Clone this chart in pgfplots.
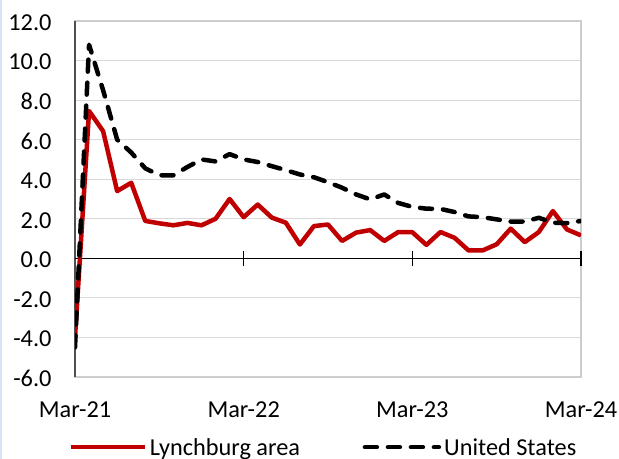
\documentclass[border=0pt]{standalone}
\usepackage{fontspec}
\setmainfont{Carlito}
\usepackage{pgfplots}
\pgfplotsset{compat=1.18}
\definecolor{lred}{RGB}{192,0,0}
\definecolor{gridg}{RGB}{217,217,217}
\definecolor{frameg}{RGB}{205,205,205}
\definecolor{axisg}{RGB}{80,80,80}
\definecolor{edgeblue}{RGB}{218,227,243}

\pgfplotstableread{
m  lyn    us
0  -4.0   -4.5
1  7.45   10.8
2  6.43   8.5
3  3.4    6.0
4  3.82   5.35
5  1.89   4.55
6  1.77   4.2
7  1.67   4.2
8  1.79   4.62
9  1.67   5.0
10 2.0    4.9
11 3.0    5.27
12 2.08   5.0
13 2.72   4.87
14 2.06   4.66
15 1.8    4.46
16 0.7    4.24
17 1.63   4.1
18 1.71   3.85
19 0.88   3.57
20 1.3    3.23
21 1.43   2.98
22 0.88   3.23
23 1.33   2.8
24 1.32   2.6
25 0.68   2.51
26 1.33   2.5
27 1.04   2.34
28 0.4    2.12
29 0.4    2.08
30 0.71   1.97
31 1.5    1.86
32 0.82   1.86
33 1.33   2.05
34 2.39   1.8
35 1.46   1.78
36 1.16   1.89
}\datatab

\begin{document}
\begin{tikzpicture}
\path[use as bounding box] (0,0) rectangle (619bp,459bp);
\fill[edgeblue] (0,0) rectangle (2bp,459bp);
\begin{axis}[
  at={(75bp,82bp)}, anchor=south west,
  scale only axis, width=506bp, height=356bp,
  xmin=0, xmax=36, ymin=-6, ymax=12,
  xtick={0,12,24,36},
  xticklabels={Mar-21,Mar-22,Mar-23,Mar-24},
  ytick={-6,-4,-2,0,2,4,6,8,10,12},
  yticklabels={-6.0,-4.0,-2.0,0.0,2.0,4.0,6.0,8.0,10.0,12.0},
  major tick length=0pt,
  clip mode=individual,
  axis line style={frameg, line width=1.2bp},
  ymajorgrids, grid style={gridg, line width=1.2bp},
  tick label style={font=\fontsize{24.4}{28}\selectfont, text=black},
  yticklabel style={anchor=east, inner sep=0pt, xshift=-23.3bp, yshift=-1.5bp},
  xticklabel style={anchor=base, inner sep=0pt, yshift=-40bp},
  legend image code/.code={\draw[#1] (0bp,8bp) -- (74bp,8bp);},
  legend columns=2,
  legend style={at={(axis description cs:-0.01324,-0.198)}, anchor=west,
    draw=none, fill=none, inner sep=0pt, outer sep=0pt,
    nodes={inner sep=0pt, anchor=base west, font=\fontsize{24.4}{28}\selectfont},
    /tikz/every odd column/.append style={column sep=3bp},
    /tikz/every even column/.append style={column sep=62.6bp}},
]
\draw[axisg, line width=1.3bp] (axis cs:0,-6) -- (axis cs:0,12);
\draw[black, line width=1.3bp] (axis cs:0,0) -- (axis cs:36,0);
\draw[black, line width=1.3bp] ([yshift=-7.5bp]axis cs:12,0) -- ([yshift=7.5bp]axis cs:12,0);
\draw[black, line width=1.3bp] ([yshift=-7.5bp]axis cs:24,0) -- ([yshift=7.5bp]axis cs:24,0);
\draw[black, line width=1.3bp] ([yshift=-7.5bp]axis cs:36,0) -- ([yshift=7.5bp]axis cs:36,0);
\addplot[lred, line width=4.5bp, line join=round, no markers] table[x=m, y=lyn] {\datatab};
\addlegendentry{Lynchburg area}
\addplot[black, line width=4.5bp, line join=round, line cap=round, dash pattern=on 12bp off 11bp, no markers] table[x=m, y=us] {\datatab};
\addlegendentry{United States}
\end{axis}
\end{tikzpicture}
\end{document}
